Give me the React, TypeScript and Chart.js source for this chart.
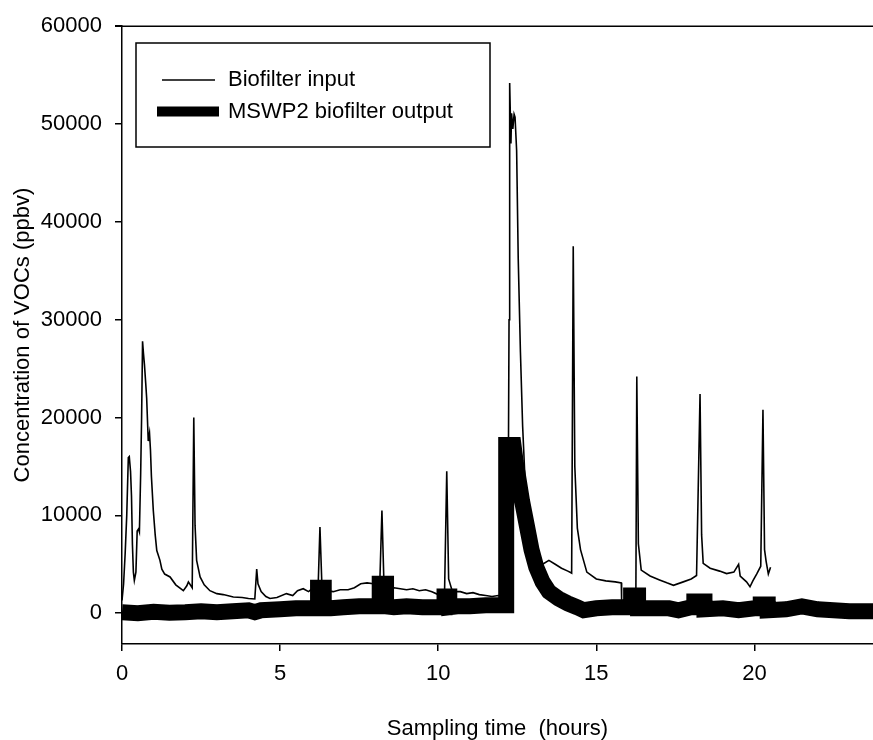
import React, { useEffect, useRef } from "react";
import { Chart, registerables } from "chart.js";

Chart.register(...registerables);

// ---- data (hours, ppbv) ----
const inputTime = [
  0.0, 0.05, 0.1, 0.15, 0.2, 0.23, 0.27, 0.3, 0.33, 0.36, 0.39, 0.44, 0.48, 0.52, 0.55, 0.59, 0.62, 0.65,
  0.68, 0.71, 0.75, 0.78, 0.83, 0.87, 0.9, 0.93, 0.99, 1.05, 1.1, 1.2, 1.26, 1.35, 1.52, 1.7, 1.94, 2.05,
  2.1, 2.22, 2.27, 2.31, 2.36, 2.47, 2.6, 2.78, 3.0, 3.2, 3.52, 3.8, 4.0, 4.2, 4.26, 4.3, 4.4, 4.55, 4.68,
  4.9, 5.2, 5.4, 5.55, 5.73, 5.9, 6.05, 6.2, 6.26, 6.32, 6.45, 6.68, 6.9, 7.15, 7.35, 7.55, 7.75, 7.95,
  8.15, 8.22, 8.28, 8.4, 8.6, 8.8, 9.0, 9.2, 9.4, 9.6, 9.8, 10.0, 10.2, 10.27, 10.33, 10.45, 10.7, 10.9,
  11.1, 11.3, 11.5, 11.7, 11.9, 12.1, 12.2, 12.24, 12.26, 12.3, 12.32, 12.36, 12.4, 12.43, 12.48, 12.53,
  12.6, 12.67, 12.75, 12.9, 13.1, 13.3, 13.5, 13.7, 13.9, 14.1, 14.22, 14.27, 14.32, 14.4, 14.5, 14.7,
  15.0, 15.3, 15.6, 15.79, 15.8, 16.0, 16.25, 16.28, 16.33, 16.42, 16.7, 17.0, 17.23, 17.44, 17.75, 18.0,
  18.17, 18.28, 18.33, 18.38, 18.6, 18.9, 19.12, 19.35, 19.5, 19.55, 19.75, 19.86, 19.95, 20.07, 20.2,
  20.27, 20.32, 20.37, 20.44, 20.51,
];
const inputValue = [
  1300, 3000, 6100, 10000, 15900, 16000, 14500, 12000, 7000, 4200, 3350, 4200, 8400, 8600, 8300, 14200, 20000, 27800,
  26500, 25400, 23500, 22000, 17600, 18400, 16700, 14000, 10500, 8000, 6400, 5400, 4500, 4000, 3700, 2900, 2300, 2800,
  3200, 2600, 20000, 9000, 5400, 3700, 2900, 2300, 2000, 1900, 1650, 1600, 1500, 1450, 4500, 3000, 2200, 1700, 1500,
  1600, 2000, 1800, 2300, 2500, 2200, 2600, 2400, 8800, 3000, 2300, 2200, 2400, 2400, 2600, 3000, 3100, 3000,
  2800, 10500, 3500, 2500, 2600, 2500, 2400, 2500, 2300, 2400, 2200, 1900, 2000, 14500, 3500, 2200, 2200, 2000,
  2100, 1900, 1800, 1700, 1800, 1700, 1700, 30000, 54200, 48000, 51100, 49500, 51000, 50700, 47300, 36300,
  26700, 19100, 13300, 9500, 6500, 5000, 5400, 5000, 4600, 4300, 4100, 37500, 15000, 8700, 6500, 4200,
  3500, 3300, 3200, 3100, 1300, 1200, 1300, 24200, 7100, 4400, 3800, 3400, 3100, 2850, 3200, 3500,
  3850, 22400, 8000, 5100, 4600, 4300, 4050, 4200, 5000, 3800, 3200, 2700, 3300, 4000, 4800,
  20800, 6500, 5300, 4000, 4700,
];

const outputTime = [
  0.0, 0.5, 1.0, 1.5, 2.0, 2.5, 3.0, 3.5, 4.0, 4.2, 4.4, 5.0, 5.5, 6.0, 6.2, 6.2, 6.38, 6.38, 6.6, 7.0,
  7.5, 8.0, 8.15, 8.15, 8.35, 8.35, 8.6, 9.0, 9.5, 10.0, 10.2, 10.2, 10.35, 10.35, 10.6, 11.0, 11.5, 12.0,
  12.15, 12.15, 12.38, 12.45, 12.55, 12.65, 12.8, 12.95, 13.1, 13.3, 13.5, 13.8, 14.1, 14.4, 14.6, 15.0, 15.5,
  16.0, 16.1, 16.1, 16.32, 16.32, 16.8, 17.3, 17.6, 18.0, 18.1, 18.1, 18.42, 18.42, 19.0, 19.5, 20.0,
  20.2, 20.2, 20.42, 20.42, 21.0, 21.5, 22.0, 22.5, 23.0, 23.8,
];
const outputValue = [
  100, 0, 150, 50, 100, 200, 100, 200, 300, 100, 300, 400, 500, 500, 500, 2600, 2600, 500, 500, 600,
  700, 700, 700, 3000, 3000, 700, 600, 700, 600, 600, 600, 1700, 1700, 600, 700, 700, 800, 800,
  800, 17200, 17200, 15500, 13500, 11500, 9000, 6500, 4700, 3200, 2200, 1500, 1000, 600, 300, 500, 600,
  600, 600, 1800, 1800, 500, 500, 500, 300, 600, 600, 1200, 1200, 400, 500, 300, 500,
  500, 900, 900, 300, 400, 700, 400, 300, 200, 200,
];

const xTicks = [0, 5, 10, 15, 20];
const yTicks = [0, 10000, 20000, 30000, 40000, 50000, 60000];

const inputLabel = "Biofilter input";
const outputLabel = "MSWP2 biofilter output";

const FONT = "'Liberation Sans', Arial, Helvetica, sans-serif";

const frameLegendPlugin = {
  id: "frameLegend",
  afterDraw(chart: any) {
    const { ctx, chartArea } = chart;
    ctx.save();
    ctx.strokeStyle = "#000";
    ctx.lineWidth = 1.5;
    ctx.beginPath();
    ctx.moveTo(chartArea.left - 7, chartArea.top);
    ctx.lineTo(chartArea.right, chartArea.top);
    ctx.stroke();

    // legend box
    const bx = 136, by = 43, bw = 354, bh = 104;
    ctx.lineWidth = 1.5;
    ctx.strokeRect(bx, by, bw, bh);

    const ds = chart.data.datasets;
    const items = [
      { ds: ds[0], y: 80, x0: 162, x1: 215 },
      { ds: ds[1], y: 111.5, x0: 157, x1: 219 },
    ];
    ctx.font = `22px ${FONT}`;
    ctx.textBaseline = "middle";
    ctx.textAlign = "left";
    ctx.fillStyle = "#000";
    for (const it of items) {
      ctx.beginPath();
      ctx.lineWidth = it.ds.legendLineWidth;
      ctx.lineCap = "butt";
      ctx.moveTo(it.x0, it.y);
      ctx.lineTo(it.x1, it.y);
      ctx.stroke();
      ctx.fillText(it.ds.label, 228, it.y);
    }
    ctx.restore();
  },
};

export default function App() {
  const ref = useRef<HTMLCanvasElement | null>(null);

  useEffect(() => {
    if (!ref.current) return;
    const chart = new Chart(ref.current, {
      type: "line",
      data: {
        datasets: [
          {
            label: inputLabel,
            data: inputTime.map((t, i) => ({ x: t, y: inputValue[i] })),
            borderColor: "#000",
            borderWidth: 1.6,
            pointRadius: 0,
            tension: 0,
            order: 1,
            legendLineWidth: 1.3,
          } as any,
          {
            label: outputLabel,
            data: outputTime.map((t, i) => ({ x: t, y: outputValue[i] })),
            borderColor: "#000",
            borderWidth: 16,
            borderJoinStyle: "miter",
            borderCapStyle: "butt",
            pointRadius: 0,
            tension: 0,
            order: 0,
            legendLineWidth: 10,
          } as any,
        ],
      },
      options: {
        responsive: false,
        animation: false,
        layout: { padding: { top: 23, right: 0, bottom: 0, left: 0 } },
        plugins: { legend: { display: false }, tooltip: { enabled: false } },
        scales: {
          x: {
            type: "linear",
            min: 0,
            max: 23.75,
            afterBuildTicks: (s: any) => {
              s.ticks = xTicks.map((v) => ({ value: v }));
            },
            afterFit: (s: any) => {
              s.height = 96;
            },
            ticks: {
              color: "#000",
              font: { family: FONT, size: 22 },
              padding: 10,
              maxRotation: 0,
              callback: (v: any) => String(v),
            },
            grid: { drawOnChartArea: false, drawTicks: true, tickLength: 7, color: "#000", lineWidth: 1.5 },
            border: { display: true, color: "#000", width: 1.5 },
            title: {
              display: true,
              text: "Sampling time  (hours)",
              color: "#000",
              font: { family: FONT, size: 22, lineHeight: 1 },
              padding: { top: 0, bottom: 0 },
            },
          },
          y: {
            type: "linear",
            min: -3150,
            max: 60000,
            afterBuildTicks: (s: any) => {
              s.ticks = yTicks.map((v) => ({ value: v }));
            },
            afterFit: (s: any) => {
              s.width = 122;
            },
            ticks: {
              color: "#000",
              font: { family: FONT, size: 22 },
              padding: 13,
              callback: (v: any) => String(v),
            },
            grid: { drawOnChartArea: false, drawTicks: true, tickLength: 7, color: "#000", lineWidth: 1.5 },
            border: { display: true, color: "#000", width: 1.5 },
            title: {
              display: true,
              text: "Concentration of VOCs (ppbv)",
              color: "#000",
              font: { family: FONT, size: 22 },
              padding: { top: 10, bottom: 0 },
            },
          },
        },
      },
      plugins: [frameLegendPlugin],
    });
    return () => chart.destroy();
  }, []);

  return (
    <div style={{ position: "fixed", left: 0, top: 0, width: 873, height: 740, background: "#fff" }}>
      <canvas ref={ref} width={873} height={740} style={{ display: "block" }} />
    </div>
  );
}
